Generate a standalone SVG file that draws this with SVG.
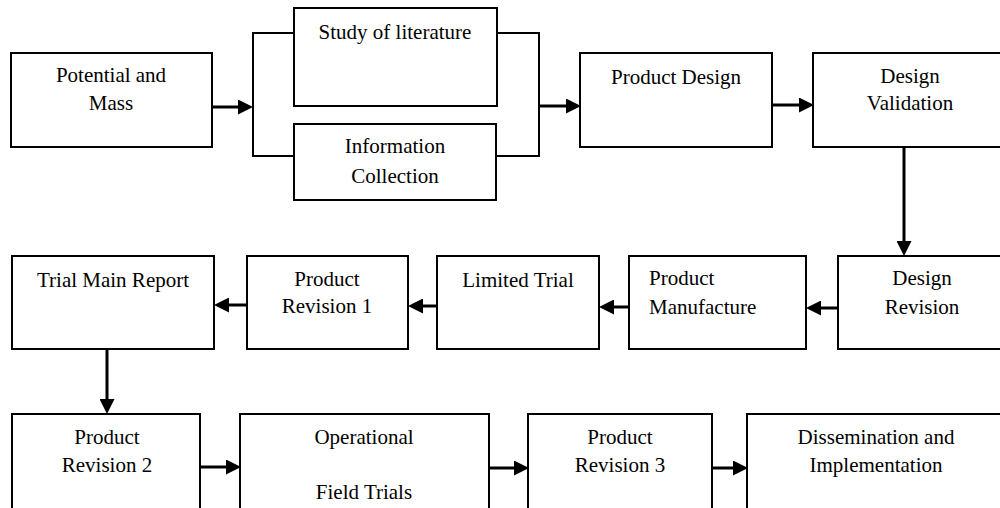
<svg xmlns="http://www.w3.org/2000/svg" width="1000" height="508" viewBox="0 0 1000 508">
<style>
  .box { fill: #fff; stroke: #000; stroke-width: 2; }
  .t { font-family: "Liberation Serif", "Times New Roman", serif; font-size: 21px; fill: #000; }
  .c { text-anchor: middle; }
  .arr { stroke: #000; stroke-width: 3; fill: none; marker-end: url(#ah); }
  .br { stroke: #000; stroke-width: 2; fill: none; }
</style>
<defs>
  <marker id="ah" markerUnits="userSpaceOnUse" markerWidth="15" markerHeight="15" refX="0" refY="7.5" orient="auto">
    <path d="M0,0 L15,7.5 L0,15 z" fill="#000"/>
  </marker>
</defs>
<rect width="1000" height="508" fill="#fff"/>

<g id="connectors">
  <line class="arr" x1="212" y1="107" x2="238" y2="107"/>
  <path class="br" d="M294,33 H253 V156 H294"/>
  <path class="br" d="M497,33 H539 V156 H497"/>
  <line class="arr" x1="539" y1="106" x2="566" y2="106"/>
  <line class="arr" x1="772" y1="105" x2="799" y2="105"/>
  <line class="arr" x1="904" y1="147" x2="904" y2="241"/>
  <line class="arr" x1="838" y1="308" x2="821" y2="308"/>
  <line class="arr" x1="629" y1="307" x2="614" y2="307"/>
  <line class="arr" x1="437" y1="306" x2="423" y2="306"/>
  <line class="arr" x1="247" y1="305" x2="229" y2="305"/>
  <line class="arr" x1="107" y1="349" x2="107" y2="399"/>
  <line class="arr" x1="200" y1="467" x2="226" y2="467"/>
  <line class="arr" x1="489" y1="468" x2="514" y2="468"/>
  <line class="arr" x1="712" y1="468" x2="733" y2="468"/>
</g>

<g id="potential">
  <rect class="box" x="11" y="53" width="201" height="94"/>
  <text class="t c" x="111" y="82">Potential and</text>
  <text class="t c" x="111" y="110">Mass</text>
</g>
<g id="study">
  <rect class="box" x="294" y="8" width="203" height="98"/>
  <text class="t c" x="395" y="39">Study of literature</text>
</g>
<g id="information">
  <rect class="box" x="294" y="124" width="202" height="76"/>
  <text class="t c" x="395" y="153">Information</text>
  <text class="t c" x="395" y="183">Collection</text>
</g>
<g id="product-design">
  <rect class="box" x="580" y="53" width="192" height="94"/>
  <text class="t c" x="676" y="84">Product Design</text>
</g>
<g id="design-validation">
  <rect class="box" x="813" y="53" width="194" height="94"/>
  <text class="t c" x="910" y="83">Design</text>
  <text class="t c" x="910" y="110">Validation</text>
</g>
<g id="design-revision">
  <rect class="box" x="838" y="256" width="168" height="93"/>
  <text class="t c" x="922" y="285">Design</text>
  <text class="t c" x="922" y="314">Revision</text>
</g>
<g id="product-manufacture">
  <rect class="box" x="629" y="256" width="177" height="93"/>
  <text class="t" x="649" y="285">Product</text>
  <text class="t" x="649" y="314">Manufacture</text>
</g>
<g id="limited-trial">
  <rect class="box" x="437" y="256" width="162" height="93"/>
  <text class="t c" x="518" y="287">Limited Trial</text>
</g>
<g id="product-revision-1">
  <rect class="box" x="247" y="256" width="161" height="93"/>
  <text class="t c" x="327" y="286">Product</text>
  <text class="t c" x="327" y="313">Revision 1</text>
</g>
<g id="trial-main-report">
  <rect class="box" x="12" y="256" width="202" height="93"/>
  <text class="t c" x="113" y="287">Trial Main Report</text>
</g>
<g id="product-revision-2">
  <rect class="box" x="12" y="414" width="188" height="110"/>
  <text class="t c" x="107" y="444">Product</text>
  <text class="t c" x="107" y="472">Revision 2</text>
</g>
<g id="operational-field-trials">
  <rect class="box" x="240" y="414" width="249" height="110"/>
  <text class="t c" x="364" y="444">Operational</text>
  <text class="t c" x="364" y="499">Field Trials</text>
</g>
<g id="product-revision-3">
  <rect class="box" x="528" y="414" width="184" height="110"/>
  <text class="t c" x="620" y="444">Product</text>
  <text class="t c" x="620" y="472">Revision 3</text>
</g>
<g id="dissemination">
  <rect class="box" x="747" y="414" width="260" height="110"/>
  <text class="t c" x="876" y="444">Dissemination and</text>
  <text class="t c" x="876" y="472">Implementation</text>
</g>
</svg>
